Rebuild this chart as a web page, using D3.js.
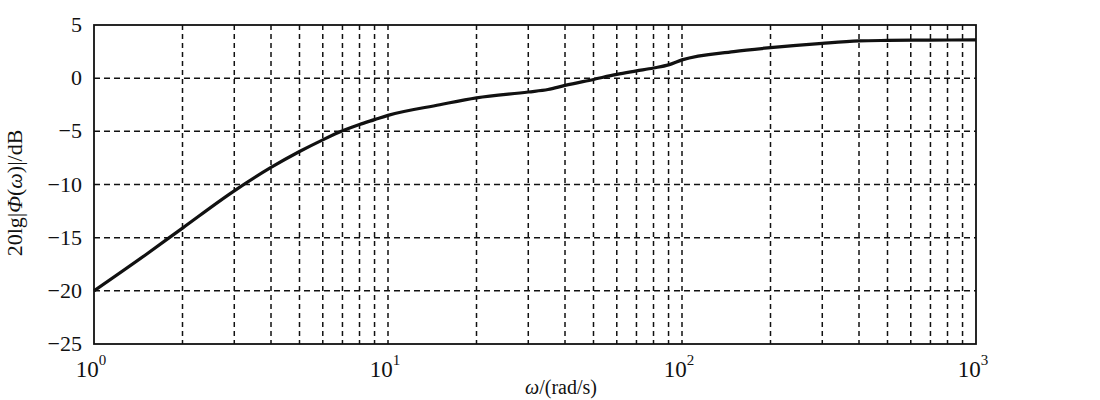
<!DOCTYPE html>
<html>
<head>
<meta charset="utf-8">
<script src="https://cdn.jsdelivr.net/npm/d3@7/dist/d3.min.js"></script>
<style>
  html, body { margin: 0; padding: 0; background: #fff; }
  svg { display: block; }
  text { font-family: "Liberation Serif", "Times New Roman", serif; fill: #111; }
</style>
</head>
<body>
<svg id="chart" width="1100" height="400"></svg>
<script>
// ---- data ----
const omega = [1, 1.5, 2, 3, 4, 5, 6, 7, 8, 9, 10, 15, 20, 30, 35, 40, 50, 60, 70, 80, 90, 100, 150, 200, 300, 400, 500, 700, 1000];
const magDb = [-20, -16.6, -14.1, -10.6, -8.4, -6.9, -5.8, -4.95, -4.35, -3.9, -3.5, -2.5, -1.85, -1.3, -1.07, -0.68, -0.12, 0.35, 0.68, 0.96, 1.25, 1.72, 2.5, 2.87, 3.28, 3.5, 3.55, 3.58, 3.6];
const yTicks = [5, 0, -5, -10, -15, -20, -25];
const yTickLabels = ["5", "0", "\u22125", "\u221210", "\u221215", "\u221220", "\u221225"];
const xDecades = [1, 10, 100, 1000];
const xDecadeExps = ["0", "1", "2", "3"];
// axis titles as [text, italic] pieces
const xLabelParts = [["\u03c9", true], ["/(rad/s)", false]];
const yLabelParts = [["20lg|", false], ["\u03a6", true], ["(", false], ["\u03c9", true], [")|/dB", false]];

// ---- layout ----
const svg = d3.select("#chart");
const L = 94, R = 976, T = 25, B = 344;
const x = d3.scaleLog().domain([1, 1000]).range([L, R]);
const y = d3.scaleLinear().domain([-25, 5]).range([B, T]);
const ink = "#111";

// grid values
const gridX = [];
for (let k = 0; k < 3; k++) for (let m = 1; m <= 9; m++) { const v = m * Math.pow(10, k); if (v > 1) gridX.push(v); }
const gridY = yTicks.filter(v => v > -25 && v < 5);

svg.append("g").selectAll("line").data(gridX).join("line")
  .attr("x1", d => x(d)).attr("x2", d => x(d))
  .attr("y1", T).attr("y2", B)
  .attr("stroke", ink).attr("stroke-width", 1.5).attr("stroke-dasharray", "5,4");

svg.append("g").selectAll("line").data(gridY).join("line")
  .attr("x1", L).attr("x2", R)
  .attr("y1", d => y(d)).attr("y2", d => y(d))
  .attr("stroke", ink).attr("stroke-width", 1.5).attr("stroke-dasharray", "6,4");

// frame
svg.append("rect").attr("x", L).attr("y", T).attr("width", R - L).attr("height", B - T)
  .attr("fill", "none").attr("stroke", ink).attr("stroke-width", 1.8);

// curve
const line = d3.line().x((d, i) => x(omega[i])).y(d => y(d)).curve(d3.curveMonotoneX);
svg.append("path").datum(magDb).attr("d", line)
  .attr("fill", "none").attr("stroke", ink).attr("stroke-width", 3.2).attr("stroke-linejoin", "round");

// y tick labels
svg.append("g").selectAll("text").data(yTicks).join("text")
  .attr("x", 82).attr("y", d => y(d) + 7)
  .attr("text-anchor", "end").attr("font-size", 22)
  .text((d, i) => yTickLabels[i]);

// x tick labels
const xt = svg.append("g").selectAll("text").data(xDecades).join("text")
  .attr("x", d => x(d) - 3).attr("y", 377)
  .attr("text-anchor", "middle").attr("font-size", 23);
xt.append("tspan").text("10");
xt.append("tspan").attr("dy", -12).attr("font-size", 15).text((d, i) => xDecadeExps[i]);

// axis titles
const xl = svg.append("text").attr("x", 561).attr("y", 394).attr("text-anchor", "middle")
  .attr("font-size", 20);
xl.selectAll("tspan").data(xLabelParts).join("tspan")
  .attr("font-style", d => d[1] ? "italic" : null).text(d => d[0]);

const yl = svg.append("text").attr("transform", "translate(22,193) rotate(-90)")
  .attr("text-anchor", "middle").attr("font-size", 22);
yl.selectAll("tspan").data(yLabelParts).join("tspan")
  .attr("font-style", d => d[1] ? "italic" : null).text(d => d[0]);
</script>
</body>
</html>
